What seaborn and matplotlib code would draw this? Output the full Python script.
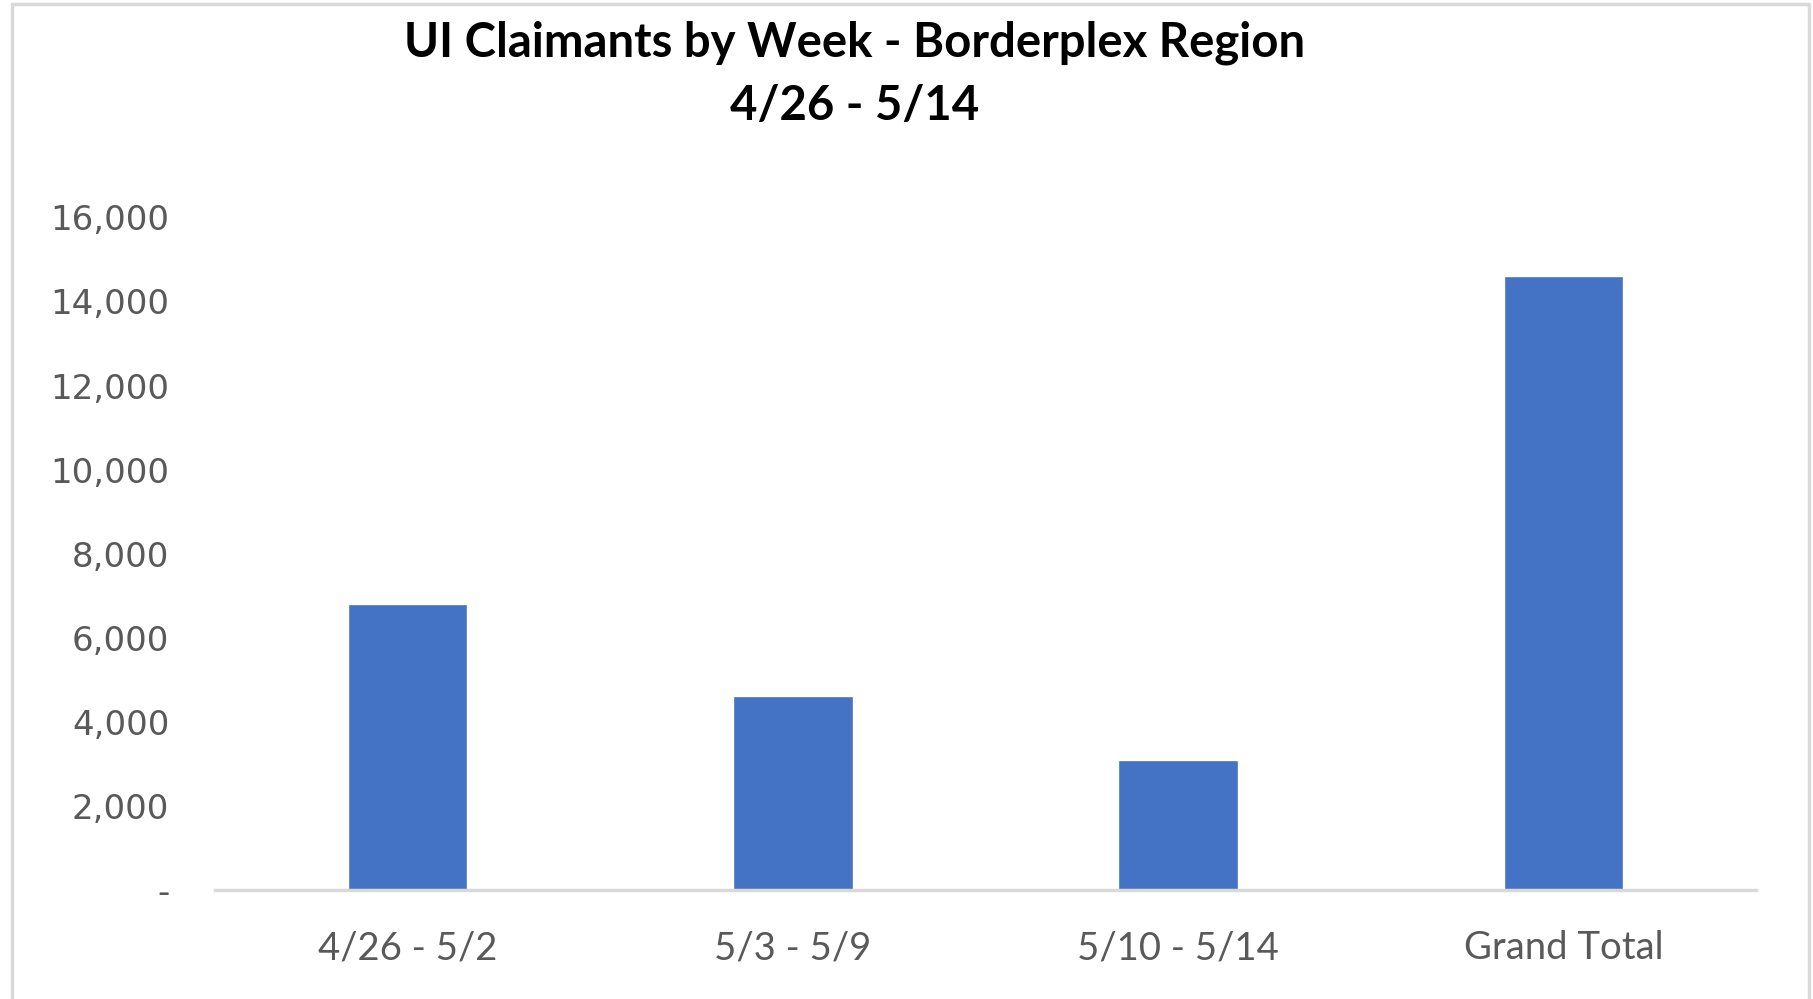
import matplotlib
matplotlib.use('Agg')
import matplotlib.pyplot as plt
from matplotlib.lines import Line2D
from matplotlib.ticker import FuncFormatter
import seaborn as sns

weeks = ['4/26 - 5/2', '5/3 - 5/9', '5/10 - 5/14', 'Grand Total']
claimants = [6810, 4620, 3100, 14600]
yticks = [0, 2000, 4000, 6000, 8000, 10000, 12000, 14000, 16000]

sns.set_theme(style='white')
plt.rcParams['font.family'] = ['Lato', 'DejaVu Sans']

fig = plt.figure(figsize=(18.13, 9.99), dpi=100)
ax = fig.add_axes([0.1186, 0.1091, 0.85, 0.6733])

sns.barplot(x=weeks, y=claimants, color='#4472C4', saturation=1,
            width=0.31, ax=ax)

ax.set_ylim(0, 16000)
ax.set_yticks(yticks)
ax.yaxis.set_major_formatter(FuncFormatter(
    lambda v, p: '-' if v == 0 else f'{int(v):,}'))
for lab in ax.get_yticklabels():
    lab.set_family('DejaVu Sans')
ax.tick_params(axis='y', length=0, pad=33, labelsize=24.5, labelcolor='#595959')
ax.tick_params(axis='x', length=0, pad=29, labelsize=27.5, labelcolor='#595959')
ax.set_xlabel('')
ax.set_ylabel('')

for side in ['left', 'right', 'top']:
    ax.spines[side].set_visible(False)
ax.spines['bottom'].set_color('#d9d9d9')
ax.spines['bottom'].set_linewidth(2.5)

fig.text(0.4713, 1 - 43 / 999, 'UI Claimants by Week - Borderplex Region',
         ha='center', va='center', fontsize=34, fontweight='bold', color='black')
fig.text(0.4713, 1 - 106 / 999, '4/26 - 5/14',
         ha='center', va='center', fontsize=34, fontweight='bold', color='black')

# chart frame
fig.add_artist(Line2D([12 / 1813, 12 / 1813], [0, 1 - 4 / 999],
                      transform=fig.transFigure, color='#d9d9d9', lw=2.5))
fig.add_artist(Line2D([12 / 1813, 1809 / 1813], [1 - 4 / 999, 1 - 4 / 999],
                      transform=fig.transFigure, color='#d9d9d9', lw=2.5))
fig.add_artist(Line2D([1809 / 1813, 1809 / 1813], [0, 1 - 4 / 999],
                      transform=fig.transFigure, color='#d9d9d9', lw=2.5))

fig.savefig('out.png', dpi=100)
